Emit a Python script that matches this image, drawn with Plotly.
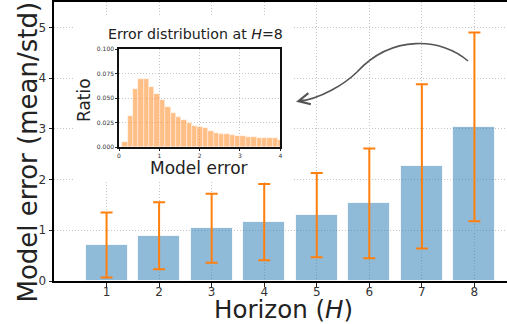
import plotly.graph_objects as go

# ---------------- data ----------------
horizons = [1, 2, 3, 4, 5, 6, 7, 8]
err_mean = [0.71, 0.89, 1.04, 1.16, 1.30, 1.53, 2.26, 3.04]
err_std = [0.64, 0.66, 0.68, 0.75, 0.83, 1.08, 1.62, 1.86]

hist_bin_start = 0.08
hist_bin_width = 0.1333
hist_ratio = [0.0052, 0.0316, 0.0588, 0.0692, 0.0692, 0.0613, 0.0538, 0.0484,
              0.0405, 0.0349, 0.0311, 0.0276, 0.0240, 0.0216, 0.0204, 0.0190,
              0.0163, 0.0148, 0.0135, 0.0130, 0.0121, 0.0116, 0.0112, 0.0097,
              0.0099, 0.0096, 0.0092, 0.0089, 0.0089, 0.0075]

main_yticks = [0, 1, 2, 3, 4, 5]
inset_xticks = [0, 1, 2, 3, 4]
inset_yticks = [0, 0.025, 0.05, 0.075, 0.1]

# ---------------- geometry helpers (pixel -> paper) ----------------
W, H = 507, 324
ML, MR, MT, MB = 54, 0, 2, 43
PW, PH = W - ML - MR, H - MT - MB


def px(x):
    return (x - ML) / PW


def py(y):
    return (H - MB - y) / PH


FONT = "DejaVu Sans"
TXT = "#222222"
TICK = "#333333"

fig = go.Figure()

# main bars with error bars
fig.add_trace(go.Bar(
    x=horizons, y=err_mean, width=0.8,
    marker=dict(color="rgba(31,119,180,0.5)", line=dict(color="rgba(255,255,255,0.8)", width=1)),
    error_y=dict(type="data", array=err_std, visible=True, color="#ff7f0e", thickness=2, width=6),
    xaxis="x", yaxis="y", showlegend=False,
))

# empty subplot acting as the white backdrop of the inset
fig.add_trace(go.Scatter(x=[], y=[], xaxis="x2", yaxis="y2", showlegend=False, hoverinfo="skip"))

# inset histogram
hist_x = [hist_bin_start + hist_bin_width * (i + 0.5) for i in range(len(hist_ratio))]
fig.add_trace(go.Bar(
    x=hist_x, y=hist_ratio, width=hist_bin_width,
    marker=dict(color="rgba(255,127,14,0.5)", line=dict(color="rgba(255,255,255,0.7)", width=0.6)),
    xaxis="x3", yaxis="y3", showlegend=False,
))

grid = dict(showgrid=True, gridcolor="#c4c4c4", griddash="1px,2px", gridwidth=1)

fig.update_layout(
    width=W, height=H,
    margin=dict(l=ML, r=MR, t=MT, b=MB, pad=0, autoexpand=False),
    paper_bgcolor="white", plot_bgcolor="white",
    font=dict(family=FONT, color=TXT),
    bargap=0,
    xaxis=dict(domain=[0, 1], range=[0, 8.62], tickvals=horizons, ticks="outside", ticklen=3.5,
               tickwidth=1, tickcolor="#222", tickfont=dict(size=12, color=TICK),
               ticklabelstandoff=-5,
               showline=True, linecolor="black", linewidth=2, mirror=True, zeroline=False,
               anchor="y", **grid),
    yaxis=dict(domain=[0, 1], range=[0, 5.5], tickvals=main_yticks, ticks="outside", ticklen=3.5,
               tickwidth=1, tickcolor="#222", tickfont=dict(size=12, color=TICK),
               showline=True, linecolor="black", linewidth=2, mirror=False, zeroline=False,
               anchor="x", **grid),
    xaxis2=dict(domain=[px(75), px(292)], range=[0, 1], visible=False, anchor="y2"),
    yaxis2=dict(domain=[py(182), py(17)], range=[0, 1], visible=False, anchor="x2"),
    xaxis3=dict(domain=[px(119), px(280.3)], range=[0, 4], tickvals=inset_xticks, ticks="outside",
                ticklen=2, tickwidth=0.8, tickcolor="#222", tickfont=dict(size=6, color=TICK),
                showline=True, linecolor="#111", linewidth=1.5, mirror=True, zeroline=False,
                anchor="y3", **grid),
    yaxis3=dict(domain=[py(147), py(49)], range=[0, 0.1], tickvals=inset_yticks, tickformat=".3f",
                ticks="outside", ticklen=2, tickwidth=0.8, tickcolor="#222",
                tickfont=dict(size=6, color=TICK),
                showline=True, linecolor="#111", linewidth=1.5, mirror=True, zeroline=False,
                anchor="x3", **grid),
)

# curved arrow path (pixel points converted to paper)
def P(x, y):
    return f"{px(x):.5f},{py(y):.5f}"


path = (f"M {P(468, 61)} C {P(442, 38)} {P(392, 34)} {P(357, 72)} "
        f"C {P(345, 84)} {P(320, 99)} {P(299, 101.3)}")
fig.add_shape(type="path", path=path, xref="paper", yref="paper",
              line=dict(color="#555555", width=1.6), layer="above")

annos = [
    dict(text="Model error (mean/std)", x=px(27), y=py(152.5), textangle=-90, font=dict(size=26)),
    dict(text="Horizon (<i>H</i>)", x=px(283), y=py(309.5), font=dict(size=24.5)),
    dict(text="Error distribution at <i>H</i>=8", x=px(195), y=py(34), font=dict(size=14.2)),
    dict(text="Ratio", x=px(84), y=py(100), textangle=-90, font=dict(size=17)),
    dict(text="Model error", x=px(199), y=py(168), font=dict(size=17)),
]
for a in annos:
    fig.add_annotation(xref="paper", yref="paper", showarrow=False,
                       xanchor="center", yanchor="middle", **a)

fig.add_annotation(xref="paper", yref="paper", x=px(296), y=py(101.7), text="",
                   showarrow=True, arrowhead=5, arrowsize=1.5, arrowwidth=1.5,
                   arrowcolor="#555555", ax=9, ay=-2)

fig.write_html("out.html", config={"displayModeBar": False},
               post_script="document.body.style.margin='0px';")
